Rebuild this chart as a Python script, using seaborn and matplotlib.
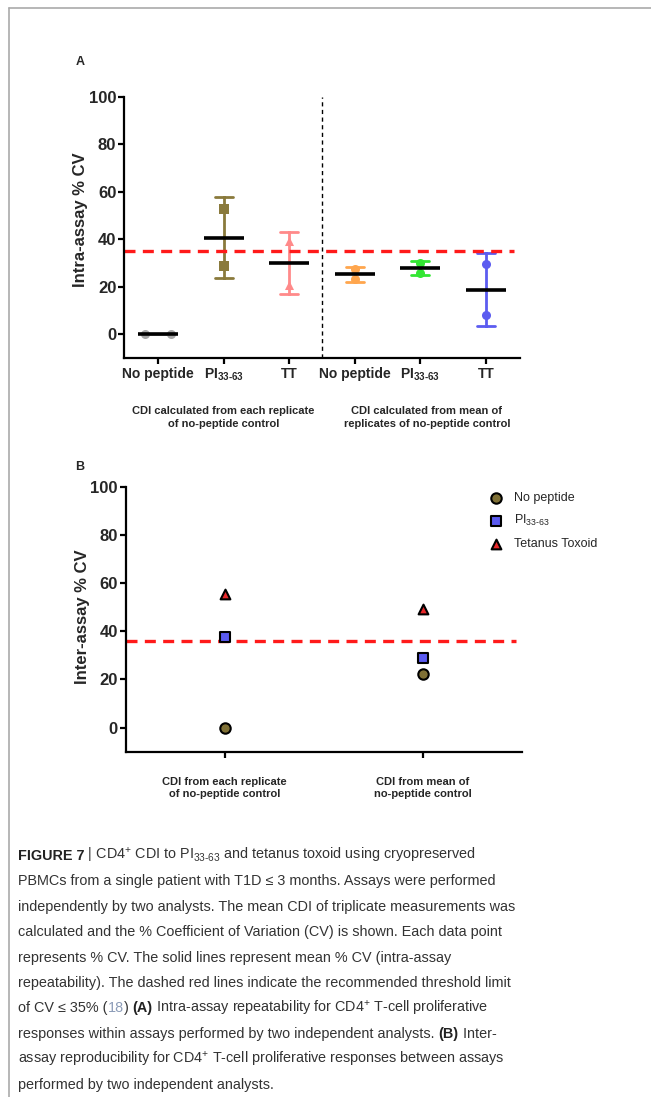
import numpy as np
import pandas as pd
import matplotlib
matplotlib.use("Agg")
import matplotlib.pyplot as plt
import matplotlib.transforms as mtransforms
from matplotlib import font_manager
from matplotlib.lines import Line2D
import seaborn as sns

# ==========================
# Data
# ==========================

# panel A : intra-assay % CV (analyst 1 / analyst 2)
groups_a = ["No peptide|rep", "PI|rep", "TT|rep", "No peptide|mean", "PI|mean", "TT|mean"]
tick_labels_a = ["No peptide", "PI$_{33‐63}$", "TT", "No peptide", "PI$_{33‐63}$", "TT"]
analyst1_a = [0.0, 52.8, 39.3, 27.3, 30.0, 29.7]
analyst2_a = [0.0, 28.7, 20.8, 23.1, 25.8, 8.0]
colors_a = ["#a6a6a6", "#8a7a3c", "#ff8a8a", "#ffa64d", "#33e633", "#5c5cf0"]
markers_a = ["o", "s", "^", "o", "o", "o"]
threshold_a = 35
group_text_a = ["CDI calculated from each replicate\nof no-peptide control",
                "CDI calculated from mean of\nreplicates of no-peptide control"]

# panel B : inter-assay % CV
conditions_b = ["CDI from each replicate\nof no-peptide control",
                "CDI from mean of\nno-peptide control"]
no_peptide_b = [0.0, 22.4]
pi_b = [37.7, 28.7]
tt_b = [55.4, 49.4]
series_b = ["No peptide", "PI$_{33‐63}$", "Tetanus Toxoid"]
colors_b = ["#7f7035", "#5a5af0", "#e8282a"]
markers_b = ["o", "s", "^"]
sizes_b = [7.5, 6.5, 7]
threshold_b = 36

caption_lines = [
    [("FIGURE 7", "bold"), (" | CD4$^{+}$ CDI to PI$_{33‐63}$ and tetanus toxoid using cryopreserved", "normal")],
    [("PBMCs from a single patient with T1D ≤ 3 months. Assays were performed", "normal")],
    [("independently by two analysts. The mean CDI of triplicate measurements was", "normal")],
    [("calculated and the % Coefficient of Variation (CV) is shown. Each data point", "normal")],
    [("represents % CV. The solid lines represent mean % CV (intra-assay", "normal")],
    [("repeatability). The dashed red lines indicate the recommended threshold limit", "normal")],
    [("of CV ≤ 35% (", "normal"), ("18", "link"), (") ", "normal"), ("(A)", "bold"),
     (" Intra-assay repeatability for CD4$^{+}$ T-cell proliferative", "normal")],
    [("responses within assays performed by two independent analysts. ", "normal"), ("(B)", "bold"),
     (" Inter-", "normal")],
    [("assay reproducibility for CD4$^{+}$ T-cell proliferative responses between assays", "normal")],
    [("performed by two independent analysts.", "normal")],
]

# ==========================
# Style
# ==========================

sns.set_style("ticks")
plt.rcParams["font.family"] = ["Liberation Sans", "DejaVu Sans"]
plt.rcParams["font.weight"] = "bold"
plt.rcParams["mathtext.default"] = "regular"

available = {f.name for f in font_manager.fontManager.ttflist}
narrow = "Liberation Sans Narrow" in available
caption_family = ["Liberation Sans Narrow" if narrow else "Liberation Sans", "DejaVu Sans"]
caption_size = 12 if narrow else 10.4

W, H = 651, 1097
fig = plt.figure(figsize=(W / 100, H / 100), dpi=100)


def style_axis(ax):
    sns.despine(ax=ax)
    for s in ["left", "bottom"]:
        ax.spines[s].set_linewidth(1.6)
        ax.spines[s].set_color("black")
    ax.tick_params(width=1.6, length=4, color="black")
    ax.tick_params(axis="y", labelsize=12, pad=1.5)
    ax.set_ylim(-10, 100)
    ax.set_yticks([0, 20, 40, 60, 80, 100])


# ==========================
# Panel A
# ==========================

ax_a = fig.add_axes([124 / W, 1 - 358 / H, 396 / W, 261 / H])

df_a = pd.DataFrame({
    "group": groups_a * 2,
    "analyst": ["1"] * len(groups_a) + ["2"] * len(groups_a),
    "cv": analyst1_a + analyst2_a,
})
pal_a = dict(zip(groups_a, colors_a))

sns.pointplot(
    data=df_a, x="group", y="cv", hue="group",
    order=groups_a, hue_order=groups_a, palette=pal_a,
    errorbar="sd", capsize=0.27, err_kws={"linewidth": 2},
    markers="", linestyle="none", dodge=False, legend=False, ax=ax_a
)

for g, c, m in zip(groups_a, colors_a, markers_a):
    sub = df_a[df_a["group"] == g]
    # identical values (both 0) are spread side by side, as in the original
    overlap = sub["cv"].nunique() == 1
    sns.stripplot(
        data=sub, x="group", y="cv", order=groups_a,
        hue="analyst" if overlap else None,
        palette=[c, c] if overlap else None,
        dodge=overlap, legend=False,
        jitter=False, color=c, marker=m,
        size=6.5, linewidth=0, zorder=3, ax=ax_a
    )

sns.pointplot(
    data=df_a, x="group", y="cv", order=groups_a,
    errorbar=None, color="black", markers="_", linestyle="none",
    markersize=29, markeredgewidth=2.6, zorder=4, ax=ax_a
)

ax_a.axhline(threshold_a, xmax=0.985, color="#ff1a1a", lw=2.4,
             ls=(0, (3.3, 2.2)), zorder=2.5)
ax_a.axvline(2.5, color="black", lw=1, ls=(0, (3, 2.5)), zorder=1)

style_axis(ax_a)
ax_a.set_xlim(-0.52, 5.52)
ax_a.set_xticks(range(len(groups_a)))
ax_a.set_xticklabels(tick_labels_a, fontsize=10, fontweight="bold")
ax_a.tick_params(axis="x", pad=2.5)
ax_a.set_xlabel("")
ax_a.set_ylabel("Intra-assay % CV", fontsize=12, fontweight="bold")
ax_a.yaxis.set_label_coords(-0.09, 0.53)

blend_a = mtransforms.blended_transform_factory(ax_a.transData, ax_a.transAxes)
for xpos, txt in zip([1.0, 4.1], group_text_a):
    ax_a.text(xpos, -0.185, txt, transform=blend_a, ha="center", va="top",
              fontsize=8, fontweight="bold", linespacing=1.35)

# ==========================
# Panel B
# ==========================

ax_b = fig.add_axes([125.5 / W, 1 - 751.7 / H, 396.5 / W, 265 / H])

df_b = pd.DataFrame({
    "condition": conditions_b * 3,
    "stim": np.repeat(series_b, len(conditions_b)),
    "cv": no_peptide_b + pi_b + tt_b,
})

for s, c, m, sz in zip(series_b, colors_b, markers_b, sizes_b):
    sns.stripplot(
        data=df_b[df_b["stim"] == s], x="condition", y="cv",
        order=conditions_b, jitter=False, color=c, marker=m, size=sz,
        edgecolor="black", linewidth=1.5, zorder=3, label=s, ax=ax_b
    )

ax_b.axhline(threshold_b, xmax=0.985, color="#ff1a1a", lw=2.4,
             ls=(0, (3.3, 2.2)), zorder=2.5)

style_axis(ax_b)
ax_b.set_xlim(-0.5, 1.5)
ax_b.set_xticks([0, 1])
ax_b.set_xticklabels(conditions_b, fontsize=8, fontweight="bold", linespacing=1.3)
ax_b.tick_params(axis="x", pad=14)
ax_b.set_xlabel("")
ax_b.set_ylabel("Inter-assay % CV", fontsize=12, fontweight="bold")
ax_b.yaxis.set_label_coords(-0.09, 0.51)

# one legend entry per series (stripplot makes one collection per category)
handles, labels = ax_b.get_legend_handles_labels()
uniq = {}
for h, l in zip(handles, labels):
    uniq.setdefault(l, h)

leg = ax_b.legend(
    list(uniq.values()), list(uniq.keys()),
    loc="upper left", bbox_to_anchor=(490 / W, 1 - 492 / H),
    bbox_transform=fig.transFigure, frameon=False,
    prop={"size": 9, "weight": "normal"},
    handlelength=1.0, handletextpad=0.9, labelspacing=0.75, borderaxespad=0,
    borderpad=0
)

# ==========================
# Panel letters, frame, caption
# ==========================

fig.text(80 / W, 1 - 62 / H, "A", ha="center", va="center", fontsize=9, fontweight="bold")
fig.text(80 / W, 1 - 467 / H, "B", ha="center", va="center", fontsize=9, fontweight="bold")

fig.add_artist(Line2D([9 / W, 1], [1 - 7.5 / H, 1 - 7.5 / H], color="#aaaaaa", lw=1.2,
                      transform=fig.transFigure))
fig.add_artist(Line2D([9 / W, 9 / W], [0, 1 - 7.5 / H], color="#aaaaaa", lw=1.2,
                      transform=fig.transFigure))

renderer = fig.canvas.get_renderer()
piece_colors = {"normal": "#333333", "bold": "#222222", "link": "#8c9cb8"}
for i, line in enumerate(caption_lines):
    trans = fig.transFigure
    y = 1 - (860 + i * 25.4) / H
    for txt, kind in line:
        t = fig.text(18 / W, y, txt, transform=trans, ha="left", va="baseline",
                     fontsize=caption_size, family=caption_family,
                     fontweight="bold" if kind == "bold" else "normal",
                     color=piece_colors[kind])
        ext = t.get_window_extent(renderer=renderer)
        trans = mtransforms.offset_copy(t.get_transform(), x=ext.width, units="dots")

fig.savefig("out.png", dpi=100)
